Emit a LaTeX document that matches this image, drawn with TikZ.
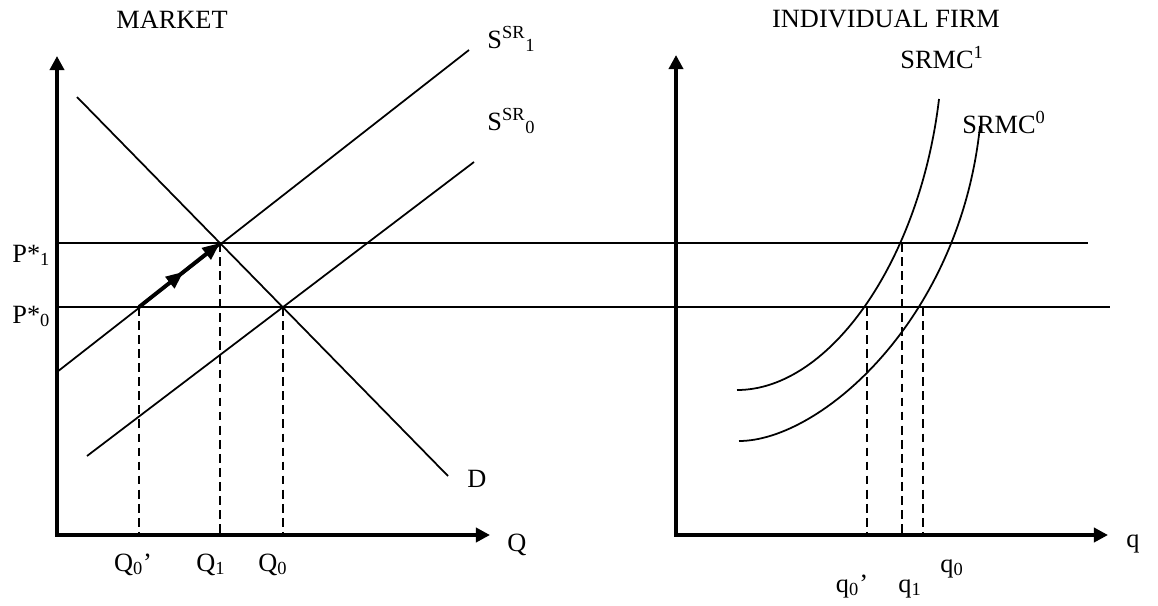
\documentclass[tikz,border=0pt]{standalone}
\usepackage{fontspec}
\setmainfont{Liberation Serif}
\usetikzlibrary{arrows.meta, calc}

\begin{document}
\begin{tikzpicture}[x=0.02cm, y=-0.02cm, font=\fontsize{15}{18}\selectfont,
    axis/.style={line width=2pt, line join=miter,
        {Triangle[length=8pt,width=8pt]}-{Triangle[length=8pt,width=8pt]}},
    curve/.style={line width=1pt},
    guide/.style={line width=1.4pt, dash pattern=on 5pt off 3pt},
    move/.style={line width=2.2pt, -{Triangle[length=10pt,width=8pt]}},
    lab/.style={inner sep=0pt}]

    \useasboundingbox (0,0) rectangle (1158,605);

    \def\pone{243}
    \def\pzero{307}

    % --- Market ---
    \coordinate (O) at (57,535);
    \draw[axis] (57,56) -- (O) -- (490,535);

    % Price lines across both panels
    \draw[curve] (57,\pone) -- (1088,\pone);
    \draw[curve] (57,\pzero) -- (1110,\pzero);

    % Demand and supply
    \draw[curve] (77,97) -- (448,476);
    \draw[curve] (57,372) -- (469,50);
    \draw[curve] (87,456) -- (474,162);

    \coordinate (E1) at (220,\pone);
    \coordinate (E0) at (283,\pzero);
    \coordinate (A0) at (139,\pzero);

    % Movement along the new supply curve
    \draw[move] (A0) -- ($(A0)!0.55!(E1)$);
    \draw[move] ($(A0)!0.5!(E1)$) -- (E1);

    \draw[guide] (A0) -- (A0 |- O);
    \draw[guide] (E1) -- (E1 |- O);
    \draw[guide] (E0) -- (E0 |- O);

    % --- Individual firm ---
    \coordinate (o) at (676,535);
    \draw[axis] (676,55) -- (o) -- (1108,535);

    \draw[curve] (737,390) .. controls (830,390) and (920,260) .. (939,99);
    \draw[curve] (739,441) .. controls (820,441) and (960,320) .. (980,126);

    \coordinate (e1) at (902,\pone);
    \coordinate (e0) at (923,\pzero);
    \coordinate (a0) at (867,\pzero);

    \draw[guide] (a0) -- (a0 |- o);
    \draw[guide] (e1) -- (e1 |- o);
    \draw[guide] (e0) -- (e0 |- o);

    % --- Labels ---
    \node[lab, anchor=base] (market) at (172,29) {MARKET};
    \node[lab, anchor=base] (firm) at (886,28) {INDIVIDUAL FIRM};
    \node[lab, anchor=base west] (s1lab) at (487,48) {S\textsuperscript{SR}\textsubscript{1}};
    \node[lab, anchor=base west] (s0lab) at (487,130) {S\textsuperscript{SR}\textsubscript{0}};
    \node[lab, anchor=base west] (dlab) at (467,487) {D};
    \node[lab, anchor=base west] (Qlab) at (507,551) {Q};
    \node[lab, anchor=base west] (p1lab) at (12,262) {P*\textsubscript{1}};
    \node[lab, anchor=base west] (p0lab) at (12,323) {P*\textsubscript{0}};
    \node[lab, anchor=base] (Q0plab) at (133,571) {Q\textsubscript{0}’};
    \node[lab, anchor=base] (Q1lab) at (211,571) {Q\textsubscript{1}};
    \node[lab, anchor=base] (Q0lab) at (273,571) {Q\textsubscript{0}};

    \node[lab, anchor=base west] (mc1lab) at (900,68) {SRMC\textsuperscript{1}};
    \node[lab, anchor=base west] (mc0lab) at (962,133) {SRMC\textsuperscript{0}};
    \node[lab, anchor=base west] (qlab) at (1126,547) {q};
    \node[lab, anchor=base] (q0plab) at (852,592) {q\textsubscript{0}’};
    \node[lab, anchor=base] (q1lab) at (910,592) {q\textsubscript{1}};
    \node[lab, anchor=base] (q0lab) at (952,572) {q\textsubscript{0}};

\end{tikzpicture}
\end{document}
